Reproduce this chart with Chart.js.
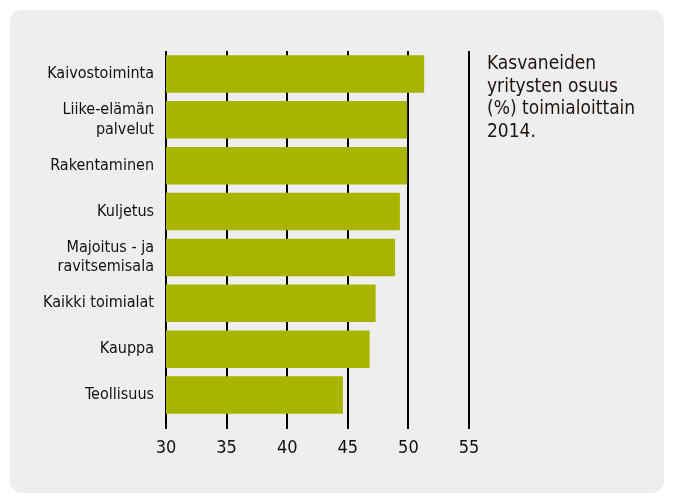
<!DOCTYPE html>
<html>
<head>
<meta charset="utf-8">
<script src="https://cdn.jsdelivr.net/npm/chart.js@4/dist/chart.umd.min.js"></script>
<style>
  html, body { margin: 0; padding: 0; background: #fff; }
  #box { position: absolute; left: 10px; top: 10px; width: 654px; height: 483px; background: #eeeeee; border-radius: 12px; }
  #wrap { position: absolute; left: 0; top: 0; width: 674px; height: 502px; }
  #note { position: absolute; left: 487px; top: 51px; font-family: "Liberation Sans Narrow", "DejaVu Sans Condensed", sans-serif;
          font-size: 19px; line-height: 22.5px; color: #1e1510; }
</style>
</head>
<body>
<div id="box"></div>
<div id="wrap"><canvas id="chart" width="674" height="502"></canvas></div>
<div id="note">Kasvaneiden<br>yritysten osuus<br>(%) toimialoittain<br>2014.</div>
<script>
// DATA
const categories = [
  "Kaivostoiminta",
  ["Liike-elämän", "palvelut"],
  "Rakentaminen",
  "Kuljetus",
  ["Majoitus - ja", "ravitsemisala"],
  "Kaikki toimialat",
  "Kauppa",
  "Teollisuus"
];
const shares = [51.3, 49.9, 49.9, 49.3, 48.9, 47.3, 46.8, 44.6];
const xTicks = [30, 35, 40, 45, 50, 55];

const FONT = "'Liberation Sans Narrow', 'DejaVu Sans Condensed', sans-serif";

new Chart(document.getElementById("chart"), {
  type: "bar",
  data: {
    labels: categories,
    datasets: [{
      data: shares,
      backgroundColor: "#a9b400",
      categoryPercentage: 1,
      barPercentage: 0.82
    }]
  },
  options: {
    indexAxis: "y",
    responsive: false,
    animation: false,
    layout: { padding: { left: 0, top: 51, right: 205, bottom: 0 } },
    plugins: { legend: { display: false }, tooltip: { enabled: false } },
    scales: {
      x: {
        min: 30, max: 55,
        afterBuildTicks: s => { s.ticks = xTicks.map(v => ({ value: v })); },
        afterFit: s => { s.height = 84; },
        grid: { color: "#000", lineWidth: 2, tickLength: 11, drawOnChartArea: true },
        border: { display: false },
        ticks: { padding: 9, color: "#111", font: { family: FONT, size: 18 } }
      },
      y: {
        afterFit: s => { s.width = 166; },
        grid: { display: false },
        border: { display: false },
        ticks: { padding: 4, color: "#111", font: { family: FONT, size: 16 } }
      }
    }
  }
});
</script>
</body>
</html>
